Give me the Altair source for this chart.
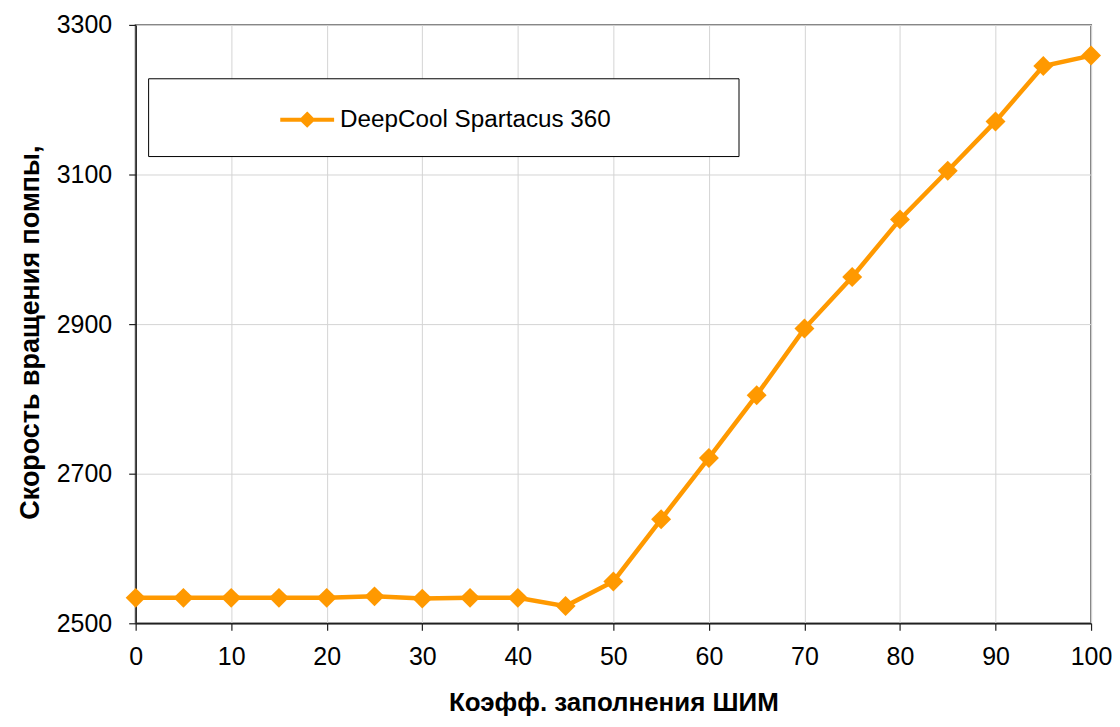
import altair as alt
import pandas as pd

pwm = [0, 5, 10, 15, 20, 25, 30, 35, 40, 45, 50, 55, 60, 65, 70, 75, 80, 85, 90, 95, 100]
rpm = [2534, 2534, 2534, 2534, 2534, 2536, 2533, 2534, 2534, 2523, 2556, 2639, 2721,
       2805, 2894, 2963, 3040, 3105, 3171, 3245, 3259]
series_name = "DeepCool Spartacus 360"
x_ticks = [0, 10, 20, 30, 40, 50, 60, 70, 80, 90, 100]
y_ticks = [2500, 2700, 2900, 3100, 3300]

df = pd.DataFrame({"pwm": pwm, "rpm": rpm, "series": [series_name] * len(pwm)})

ORANGE = "#FF9900"
FONT = "Liberation Sans"

x_enc = alt.X("pwm:Q", scale=alt.Scale(domain=[0, 100], nice=False),
              axis=alt.Axis(values=x_ticks, title="Коэфф. заполнения ШИМ",
                            labelFlush=False, titlePadding=20, titleFontSize=26))
y_enc = alt.Y("rpm:Q", scale=alt.Scale(domain=[2500, 3300], nice=False, zero=False),
              axis=alt.Axis(values=y_ticks, format="d", title="Скорость вращения помпы,",
                            titleX=-97, titleY=308, titleBaseline="alphabetic",
                            titleFontSize=27))

legend_path = "M-1,0L1,0M0,-0.2L0.2,0L0,0.2L-0.2,0Z"

color_enc = alt.Color("series:N",
                      scale=alt.Scale(domain=[series_name], range=[ORANGE]),
                      legend=alt.Legend(title=None, orient="none", legendX=143, legendY=66,
                                        symbolType=legend_path, symbolSize=2916,
                                        symbolStrokeWidth=4, symbolFillColor=ORANGE,
                                        symbolStrokeColor=ORANGE,
                                        labelFontSize=24.3, labelFont=FONT, labelColor="#000000",
                                        labelOffset=4, padding=0, labelLimit=500))

box = alt.Chart(pd.DataFrame({"k": [0]})).mark_rect(
    fill="white", stroke="black", strokeWidth=1
).encode(x=alt.value(13), x2=alt.value(605), y=alt.value(54), y2=alt.value(132))

line = alt.Chart(df).mark_line(strokeWidth=4.5).encode(x=x_enc, y=y_enc, color=color_enc)
points = alt.Chart(df).mark_point(shape="diamond", filled=True, size=400, opacity=1).encode(
    x="pwm:Q", y="rpm:Q", color=alt.Color("series:N", legend=None,
                                          scale=alt.Scale(domain=[series_name], range=[ORANGE]))
)

chart = alt.layer(box, line, points).properties(
    width=958, height=600,
    padding={"left": 9, "top": 4, "right": 0, "bottom": 0},
).configure_view(
    stroke="#808080", strokeWidth=2
).configure_axis(
    labelFont=FONT, labelFontSize=25, labelColor="#000000",
    titleFont=FONT, titleFontWeight="bold", titleColor="#000000",
    domainColor="#202020", domainWidth=1.5,
    tickColor="#202020", tickSize=7, tickWidth=1.2,
    gridColor="#d4d4d4", gridWidth=1,
    labelPadding=14,
).configure_axisY(labelPadding=17)

chart.save("out.html", embed_options={"renderer": "svg", "actions": False})
